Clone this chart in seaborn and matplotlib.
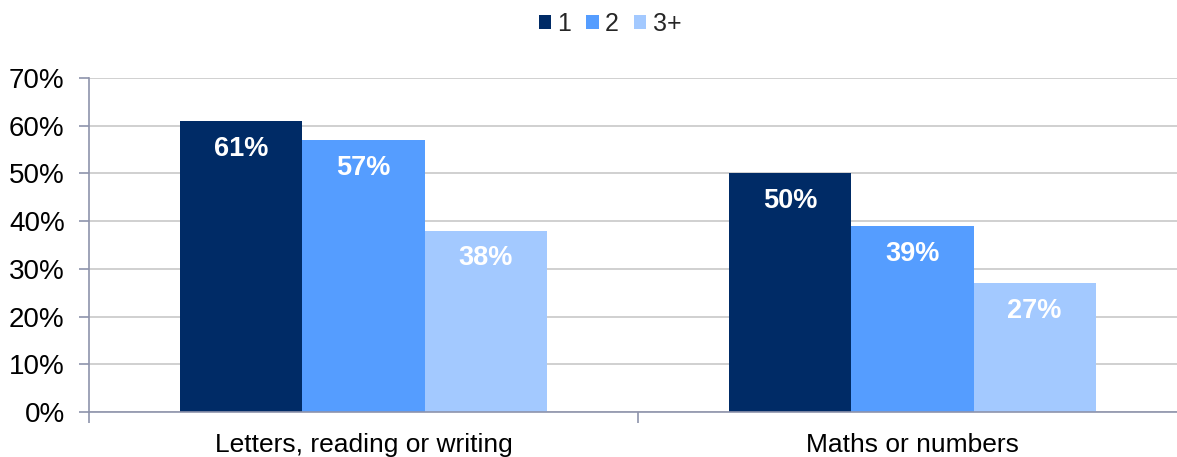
import matplotlib
matplotlib.use("Agg")
import matplotlib.pyplot as plt
import seaborn as sns
import pandas as pd
from matplotlib.ticker import FixedLocator, PercentFormatter

categories = ["Letters, reading or writing", "Maths or numbers"]
groups = ["1", "2", "3+"]
values_1 = [61, 50]
values_2 = [57, 39]
values_3 = [38, 27]
yticks = [0, 10, 20, 30, 40, 50, 60, 70]

colors = ["#002B66", "#559DFF", "#A3C9FF"]

rows = []
for g, vals in zip(groups, [values_1, values_2, values_3]):
    for c, v in zip(categories, vals):
        rows.append({"category": c, "group": g, "value": v})
df = pd.DataFrame(rows)

sns.set_style("white")
plt.rcParams["font.family"] = ["Liberation Sans", "DejaVu Sans"]

fig = plt.figure(figsize=(11.77, 4.57), dpi=100)
ax = fig.add_axes([89 / 1177, 45 / 457, 1098 / 1177, 334 / 457])

sns.barplot(data=df, x="category", y="value", hue="group", hue_order=groups,
            palette=colors, width=0.667, gap=0, saturation=1, ax=ax,
            edgecolor="none", linewidth=0)

ax.set_xlim(-0.5, 1.5)
ax.set_ylim(0, 70)
ax.set_yticks(yticks)
ax.yaxis.set_major_formatter(PercentFormatter(decimals=0))
ax.grid(axis="y", color="#C8C8C8", linewidth=1.2)
ax.set_axisbelow(True)
ax.set_xlabel("")
ax.set_ylabel("")

spine_c = "#8E93AB"
for s in ["top", "right"]:
    ax.spines[s].set_visible(False)
for s in ["left", "bottom"]:
    ax.spines[s].set_color(spine_c)
    ax.spines[s].set_linewidth(1.2)

ax.tick_params(axis="y", which="major", left=True, length=7.5, color=spine_c,
               width=1.2, labelsize=20, pad=10, labelcolor="black")
ax.tick_params(axis="x", which="major", length=0, labelsize=19, pad=15,
               labelcolor="black")
ax.xaxis.set_minor_locator(FixedLocator([-0.5, 0.5, 1.5]))
ax.tick_params(axis="x", which="minor", bottom=True, length=8, color=spine_c,
               width=1.2)

for cont in ax.containers:
    for bar in cont:
        h = bar.get_height()
        ax.annotate(f"{h:.0f}%", (bar.get_x() + bar.get_width() / 2, h),
                    xytext=(0, -20), textcoords="offset points",
                    ha="center", va="center", color="white",
                    fontsize=19.5, fontweight="bold")

handles, labels = ax.get_legend_handles_labels()
ax.legend(handles, labels, loc="center", bbox_to_anchor=(0.4745, 1.162),
          ncol=3, frameon=False, fontsize=18, handlelength=0.5, handleheight=0.5,
          handletextpad=0.25, columnspacing=0.6)

fig.savefig("out.png", dpi=100)
